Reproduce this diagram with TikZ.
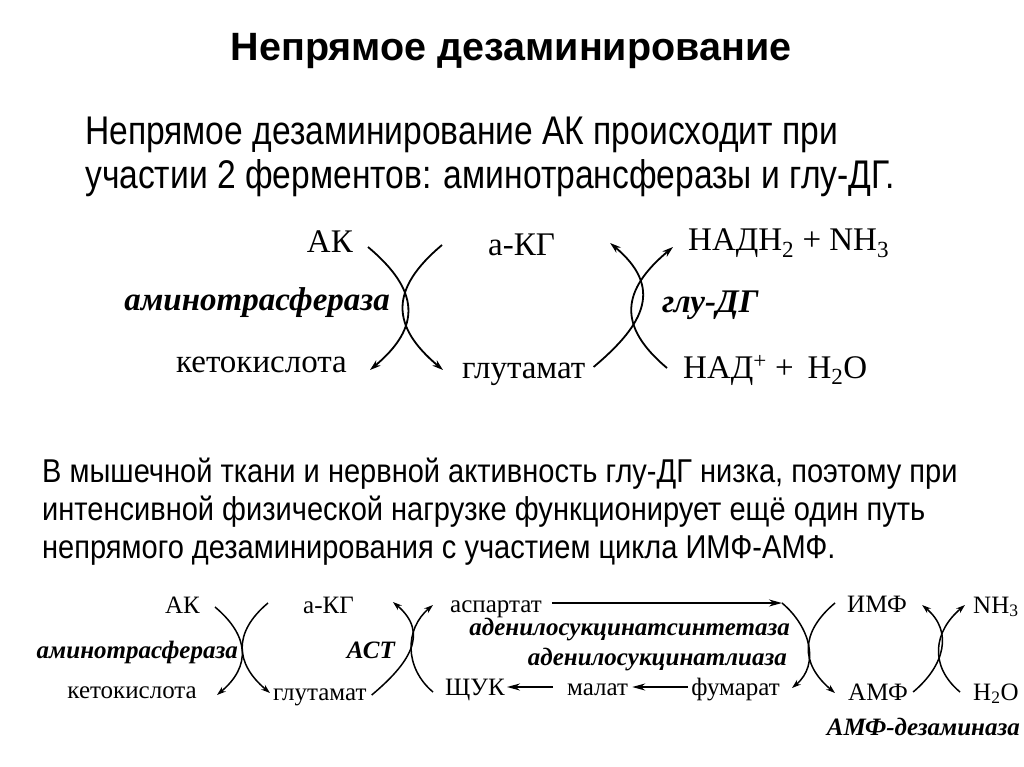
\documentclass[tikz,border=0pt]{standalone}
\usepackage{fontspec}
\setmainfont{Liberation Sans}
\newfontfamily\narrowsans{Liberation Sans}[FakeStretch=0.84]
\newfontfamily\notesans{Liberation Sans}[FakeStretch=0.88]
\newfontfamily\chemfont{Liberation Serif}
\usetikzlibrary{arrows.meta, positioning, calc}

\begin{document}
\begin{tikzpicture}[
    x=1pt, y=-1pt,
    title/.style={font=\fontsize{39.5}{43}\selectfont\bfseries, inner sep=0pt},
    para/.style={align=left, inner sep=0pt},
    chem/.style={font=\chemfont\fontsize{33}{36}\selectfont, inner sep=0pt},
    enz/.style={font=\chemfont\fontsize{33}{36}\selectfont\bfseries\itshape,
                inner sep=0pt},
    chemsm/.style={font=\chemfont\fontsize{25}{28}\selectfont, inner sep=0pt},
    enzsm/.style={font=\chemfont\fontsize{25}{28}\selectfont\bfseries\itshape,
                  inner sep=0pt},
    arc/.style={line width=1.8pt, -{Stealth[length=11pt, width=7pt]}},
    arcsm/.style={line width=1.5pt, -{Stealth[length=9pt, width=6pt]}},
    arrow/.style={line width=1.6pt, -{Stealth[length=13pt, width=7pt]}},
    rdown/.style={out=-40, in=40, looseness=1.4},
    ldown/.style={out=-140, in=140, looseness=1.4},
    rup/.style={out=40, in=-40, looseness=1.4},
    lup/.style={out=140, in=-140, looseness=1.4}
]
    \fill[white] (0,0) rectangle (1024,767);
    \useasboundingbox (0,0) rectangle (1024,767);

    \node[title, anchor=base] (head) at (511,61) {Непрямое дезаминирование};
    \node[para, anchor=north west,
          font=\narrowsans\fontsize{40}{44}\selectfont] (intro) at (85,117)
        {Непрямое дезаминирование АК происходит при\\
         участии 2 ферментов: аминотрансферазы и глу-ДГ.};
    \node[para, anchor=north west,
          font=\notesans\fontsize{33}{38}\selectfont] (note) at (42,458)
        {В мышечной ткани и нервной активность глу-ДГ низка, поэтому при\\
         интенсивной физической нагрузке функционирует ещё один путь\\
         непрямого дезаминирования с участием цикла ИМФ-АМФ.};

    \node[chem, anchor=base east] (ak) at (353,252) {АК};
    \node[chem, anchor=base west] (akg) at (488,255) {а-КГ};
    \node[chem, anchor=base west] (nadh) at (688,251)
        {НАДН\textsubscript{2} + NH\textsubscript{3}};
    \node[enz, anchor=base east] (transam) at (390,310) {аминотрасфераза};
    \node[enz, anchor=base west] (gdh) at (662,312) {глу-ДГ};
    \node[chem, anchor=base east] (keto) at (347,372) {кетокислота};
    \node[chem, anchor=base west] (glu) at (462,378) {глутамат};
    \node[chem, anchor=base west] (nad) at (683,378)
        {НАД\textsuperscript{+} +\, H\textsubscript{2}O};

    \draw[arc] ($(ak.base east)+(15,-5)$) to[rdown] ($(keto.base east)+(23,-2)$);
    \draw[arc] ($(akg.base west)+(-46,-10)$) to[ldown] ($(glu.base west)+(-19,-8)$);
    \draw[arc] ($(glu.base east)+(8,-11)$) to[rup] ($(akg.base east)+(55,-12)$);
    \draw[arc] ($(nad.base west)+(-16,-10)$) to[lup] ($(nadh.base west)+(-15,-4)$);

    \node[chemsm, anchor=base east] (ak2) at (200,613) {АК};
    \node[chemsm, anchor=base west] (akg2) at (303,613) {а-КГ};
    \node[enzsm, anchor=base east] (transam2) at (238,658) {аминотрасфераза};
    \node[enzsm, anchor=base east] (ast) at (395,658) {АСТ};
    \node[chemsm, anchor=base east] (keto2) at (197,698) {кетокислота};
    \node[chemsm, anchor=base west] (glu2) at (273,700) {глутамат};
    \node[chemsm, anchor=base west] (asp) at (450,612) {аспартат};
    \node[enzsm, anchor=base east] (adss) at (790,635) {аденилосукцинатсинтетаза};
    \node[enzsm, anchor=base east] (adsl) at (787,665) {аденилосукцинатлиаза};
    \node[chemsm, anchor=base west] (oaa) at (445,695) {ЩУК};
    \node[chemsm, anchor=base west] (mal) at (567,695) {малат};
    \node[chemsm, anchor=base east] (fum) at (780,695) {фумарат};
    \node[chemsm, anchor=base west] (imp) at (847,612) {ИМФ};
    \node[chemsm, anchor=base west] (amp) at (848,700) {АМФ};
    \node[chemsm, anchor=base west] (nh3) at (973,613) {NH\textsubscript{3}};
    \node[chemsm, anchor=base west] (water) at (973,700) {H\textsubscript{2}O};
    \node[enzsm, anchor=base east] (ampd) at (1020,735) {АМФ-дезаминаза};
    \coordinate (junc) at (782,603);

    \draw[arcsm] ($(ak2.base east)+(15,-6)$) to[rdown, looseness=1.3] ($(keto2.base east)+(20,-3)$);
    \draw[arcsm] ($(akg2.base west)+(-35,-10)$) to[ldown, looseness=1.3] ($(glu2.base west)+(-3,-7)$);
    \draw[arcsm] ($(glu2.base east)+(5,-5)$) to[rup, looseness=1.3] ($(akg2.base east)+(39,-11)$);
    \draw[arcsm] ($(oaa.base west)+(-12,-3)$) to[lup, looseness=1.1] ($(asp.base west)+(-17,-7)$);
    \draw[arrow] ($(asp.base east)+(10,-9)$) -- (junc);
    \draw[arcsm] (junc) to[rdown, looseness=1.1] ($(fum.base east)+(12,-7)$);
    \draw[arcsm] ($(imp.base west)+(-12,-9)$) to[ldown, looseness=1.3] ($(amp.base west)+(-13,-7)$);
    \draw[arcsm] ($(amp.base east)+(5,-8)$) to[rup, looseness=1.2] ($(imp.base east)+(15,-7)$);
    \draw[arcsm] ($(water.base west)+(-13,-8)$) to[lup, looseness=1.2] ($(nh3.base west)+(-8,-8)$);
    \draw[arrow] ($(mal.base west)+(-14,-8)$) -- ($(oaa.base east)+(2,-8)$);
    \draw[arrow] ($(fum.base west)+(-3,-8)$) -- ($(mal.base east)+(4,-8)$);
\end{tikzpicture}
\end{document}
